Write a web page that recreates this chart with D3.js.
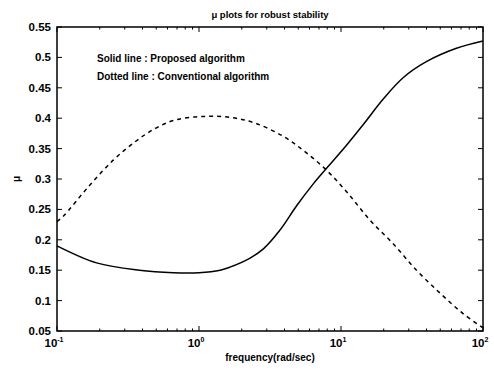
<!DOCTYPE html>
<html>
<head>
<meta charset="utf-8">
<title>mu plots</title>
<style>
body{margin:0;background:#fff}
text{font-family:Arial,"Liberation Sans",sans-serif;font-weight:bold;fill:#000}
</style>
</head>
<body>
<script src="https://d3js.org/d3.v7.min.js"></script>
<script>
var freqSolid = [0.1, 0.19, 0.38, 0.66, 1.0, 1.41, 1.65, 2.29, 2.84, 3.72, 4.87, 6.38, 7.94, 10.97, 14.4, 19.9, 27.5, 39.9, 65, 100]
var muSolid   = [0.19, 0.162, 0.15, 0.146, 0.146, 0.15, 0.155, 0.17, 0.185, 0.216, 0.256, 0.292, 0.318, 0.356, 0.39, 0.432, 0.467, 0.493, 0.515, 0.527]
var freqDash = [0.1, 0.11, 0.166, 0.249, 0.354, 0.49, 0.68, 1.1, 1.7, 2.48, 3.93, 5.57, 7.94, 10.96, 15.9, 23.2, 34, 50, 72, 100]
var muDash   = [0.23, 0.238, 0.287, 0.331, 0.361, 0.383, 0.397, 0.403, 0.401, 0.392, 0.37, 0.345, 0.314, 0.279, 0.233, 0.194, 0.15, 0.112, 0.079, 0.055]
var yTicks = [0.05, 0.1, 0.15, 0.2, 0.25, 0.3, 0.35, 0.4, 0.45, 0.5, 0.55]
var xTicks = [0.1, 1, 10, 100]
var xTickExp = ['-1', '0', '1', '2']

var W = 494, H = 372
var m = {l: 57, r: 11, t: 27, b: 41}

var svg = d3.select('body').append('svg').attr('width', W).attr('height', H)

var x = d3.scaleLog().domain([0.1, 100]).range([m.l, W - m.r])
var y = d3.scaleLinear().domain([0.05, 0.55]).range([H - m.b, m.t])

var x0 = m.l, x1 = W - m.r, y0 = H - m.b, y1 = m.t

// minor log ticks
var minor = []
xTicks.slice(0, 3).forEach(function(d){
  for (var k = 2; k < 10; k++) minor.push(d * k)
})

var g = svg.append('g').attr('stroke', '#000').attr('stroke-width', 1)
minor.forEach(function(d){
  g.append('line').attr('x1', x(d)).attr('x2', x(d)).attr('y1', y0).attr('y2', y0 - 2.5)
  g.append('line').attr('x1', x(d)).attr('x2', x(d)).attr('y1', y1).attr('y2', y1 + 2.5)
})
xTicks.forEach(function(d){
  g.append('line').attr('x1', x(d)).attr('x2', x(d)).attr('y1', y0).attr('y2', y0 - 5)
  g.append('line').attr('x1', x(d)).attr('x2', x(d)).attr('y1', y1).attr('y2', y1 + 5)
})
yTicks.forEach(function(d){
  g.append('line').attr('x1', x0).attr('x2', x0 + 5).attr('y1', y(d)).attr('y2', y(d))
  g.append('line').attr('x1', x1).attr('x2', x1 - 5).attr('y1', y(d)).attr('y2', y(d))
})

svg.append('rect').attr('x', x0).attr('y', y1).attr('width', x1 - x0).attr('height', y0 - y1)
  .attr('fill', 'none').attr('stroke', '#000').attr('stroke-width', 1.5)

// tick labels
svg.selectAll('.yl').data(yTicks).enter().append('text')
  .attr('x', x0 - 6).attr('y', function(d){ return y(d) + 4 })
  .attr('text-anchor', 'end').attr('font-size', 11.5)
  .text(function(d){ return d })

var xl = svg.selectAll('.xl').data(xTicks).enter().append('text')
  .attr('x', function(d){ return x(d) - 3 }).attr('y', y0 + 16)
  .attr('text-anchor', 'middle').attr('font-size', 11.5)
xl.append('tspan').text('10')
xl.append('tspan').attr('dy', -5).attr('font-size', 7)
  .text(function(d, i){ return xTickExp[i] })

var line = d3.line()
  .x(function(d){ return x(d[0]) })
  .y(function(d){ return y(d[1]) })
  .curve(d3.curveCatmullRom.alpha(0.5))

svg.append('path').datum(d3.zip(freqSolid, muSolid))
  .attr('d', line).attr('fill', 'none').attr('stroke', '#000').attr('stroke-width', 1.5)
svg.append('path').datum(d3.zip(freqDash, muDash))
  .attr('d', line).attr('fill', 'none').attr('stroke', '#000').attr('stroke-width', 1.5)
  .attr('stroke-dasharray', '4,4')

// texts
svg.append('text').attr('x', (x0 + x1) / 2).attr('y', 18).attr('text-anchor', 'middle')
  .attr('font-size', 9.5).text('\u03bc plots for robust stability')
svg.append('text').attr('x', (x0 + x1) / 2).attr('y', 361).attr('text-anchor', 'middle')
  .attr('font-size', 10).text('frequency(rad/sec)')
svg.append('text').attr('transform', 'translate(20,' + ((y0 + y1) / 2) + ') rotate(-90)')
  .attr('text-anchor', 'middle').attr('font-size', 10).text('\u03bc')
svg.append('text').attr('x', 97).attr('y', 62).attr('font-size', 10).text('Solid line : Proposed algorithm')
svg.append('text').attr('x', 97).attr('y', 80).attr('font-size', 10).text('Dotted line : Conventional algorithm')
</script>
</body>
</html>
